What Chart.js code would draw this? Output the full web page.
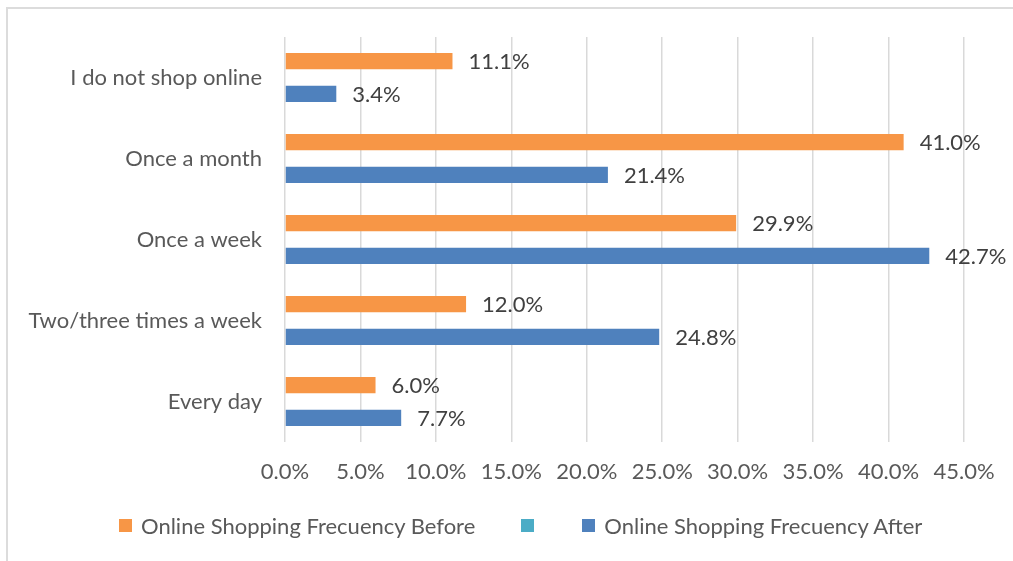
<!DOCTYPE html>
<html>
<head>
<meta charset="utf-8">
<title>Online Shopping Frecuency</title>
<script src="https://cdn.jsdelivr.net/npm/chart.js@4.4.1/dist/chart.umd.min.js"></script>
<style>
  html, body { margin: 0; padding: 0; background: #fff; }
  #wrap { position: relative; width: 1013px; height: 561px; overflow: hidden; }
  /* marco del gráfico: sólo borde superior e izquierdo */
  .frame { position: absolute; left: 6px; top: 7px; right: -10px; bottom: -10px;
           border-left: 2px solid #dcdcdc; border-top: 2px solid #dcdcdc; }
  #freqChart { position: absolute; left: 0; top: 0; }
  #legend { position: absolute; left: 119px; top: 511px; height: 28px;
            display: flex; align-items: center;
            font: 22px Lato, sans-serif; color: #595959; white-space: nowrap; }
  #legend .item { display: flex; align-items: center; }
  #legend .box { width: 13px; height: 13px; display: inline-block; }
  #legend .txt { margin-left: 9px; }
</style>
</head>
<body>
<div id="wrap">
  <div class="frame"></div>
  <canvas id="freqChart" width="1013" height="561"></canvas>
  <div id="legend"></div>
</div>
<script>
Chart.defaults.font.family = "Lato, sans-serif";
Chart.defaults.font.size = 22;
Chart.defaults.color = '#595959';

const categories = ['I do not shop online', 'Once a month', 'Once a week', 'Two/three times a week', 'Every day'];
const freqBefore = [11.1, 41.0, 29.9, 12.0, 6.0];
const freqAfter = [3.4, 21.4, 42.7, 24.8, 7.7];
const freqEmpty = [null, null, null, null, null];
const seriesLabels = ['Online Shopping Frecuency Before', '', 'Online Shopping Frecuency After'];
const seriesColors = ['#F79646', '#4BACC6', '#4F81BD'];
const axisMax = 45;
const axisStep = 5;

// etiquetas de valor a la derecha de cada barra
const barValueLabels = {
    id: 'barValueLabels',
    afterDatasetsDraw(chart) {
        const ctx = chart.ctx;
        ctx.save();
        ctx.font = "22px Lato, sans-serif";
        ctx.fillStyle = '#404040';
        ctx.textAlign = 'left';
        ctx.textBaseline = 'middle';
        chart.data.datasets.forEach((ds, i) => {
            const meta = chart.getDatasetMeta(i);
            meta.data.forEach((bar, j) => {
                const v = ds.data[j];
                if (v === null || v === undefined) return;
                ctx.fillText(v.toFixed(1) + '%', bar.x + 16, bar.y + 1);
            });
        });
        ctx.restore();
    }
};

const datasets = [freqBefore, freqEmpty, freqAfter].map((values, i) => ({
    label: seriesLabels[i],
    data: values,
    backgroundColor: seriesColors[i],
    borderWidth: 0,
    barPercentage: 1.0,
    categoryPercentage: 0.605
}));

const chart = new Chart(document.getElementById('freqChart'), {
    type: 'bar',
    data: { labels: categories, datasets: datasets },
    options: {
        indexAxis: 'y',
        responsive: false,
        animation: false,
        devicePixelRatio: 1,
        layout: { padding: { top: 37, right: 49, left: 0, bottom: 0 } },
        plugins: {
            legend: { display: false },
            tooltip: { enabled: false }
        },
        scales: {
            x: {
                min: 0,
                max: axisMax,
                ticks: {
                    stepSize: axisStep,
                    padding: 17,
                    color: '#595959',
                    callback: (val) => Number(val).toFixed(1) + '%'
                },
                grid: { color: '#d9d9d9', lineWidth: 1.5, drawTicks: false },
                border: { display: false },
                afterFit: (scale) => { scale.height = 119; }
            },
            y: {
                ticks: { padding: 23, color: '#595959' },
                grid: { display: false, drawTicks: false },
                border: { display: false },
                afterFit: (scale) => { scale.width = 285; }
            }
        }
    },
    plugins: [barValueLabels]
});

// leyenda en HTML (permite separar el elemento vacío)
const legendEl = document.getElementById('legend');
const gaps = [46, 48, 0];
chart.data.datasets.forEach((ds, i) => {
    const item = document.createElement('span');
    item.className = 'item';
    item.style.marginRight = gaps[i] + 'px';
    const box = document.createElement('span');
    box.className = 'box';
    box.style.background = ds.backgroundColor;
    item.appendChild(box);
    if (ds.label) {
        const txt = document.createElement('span');
        txt.className = 'txt';
        txt.textContent = ds.label;
        item.appendChild(txt);
    }
    legendEl.appendChild(item);
});
</script>
</body>
</html>
